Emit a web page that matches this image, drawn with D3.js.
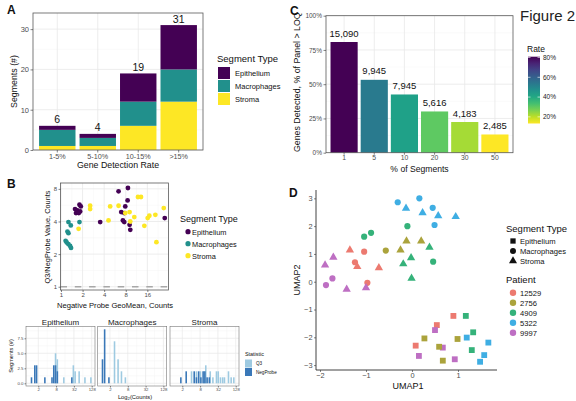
<!DOCTYPE html>
<html><head><meta charset="utf-8">
<script src="https://cdn.jsdelivr.net/npm/d3@7"></script>
<style>body{margin:0;background:#fff}svg{display:block;font-family:"Liberation Sans",Arial,sans-serif}</style>
</head><body><svg id="c" width="576" height="401"></svg>
<script>
// ---------------- DATA ----------------
// Panel A
const aCategories = ["1-5%", "5-10%", "10-15%", ">15%"];
const aStroma = [1, 1, 6, 12];
const aMacrophages = [4, 2, 6, 8];
const aEpithelium = [1, 1, 7, 11];
const aTicks = [0, 10, 20, 30];
const segTypes = ["Epithelium", "Macrophages", "Stroma"];
const segColors = ["#440154", "#21908C", "#FDE725"];

// Panel C
const cCategories = ["1", "5", "10", "20", "30", "50"];
const cRate = [80.8, 53.2, 42.5, 30.1, 22.4, 13.3];
const cGenes = [15090, 9945, 7945, 5616, 4183, 2485];
const cTicks = [0, 25, 50, 75, 100];
const cLegendTicks = [20, 40, 60, 80];

// Panel B scatter: [negative probe geomean, Q3/NegProbe]
const bEpithelium = [[1.81,5.71],[1.89,5.51],[1.57,5.21],[1.69,5.06],[1.85,4.95],[1.62,4.78],[1.77,4.78],
  [3.52,3.95],[6.35,7.59],[8.58,8.15],[8.49,6.26],[7.87,5.51],[6.92,4.89],[7.62,4.78],[7.30,4.09],
  [7.62,3.95],[9.05,3.73],[9.25,3.35],[27.97,4.30]];
const bMacrophages = [[1.27,3.95],[1.37,3.68],[1.23,3.23],[1.27,3.12],[1.16,2.65],[1.20,2.56],
  [1.27,2.47],[1.34,2.38],[1.38,2.28],[1.81,3.95]];
const bStroma = [[2.55,5.59],[2.55,5.21],[1.76,3.42],[4.85,5.51],[4.60,4.09],[6.35,5.59],[7.87,4.78],
  [9.05,4.89],[11.84,6.73],[13.05,6.73],[10.52,4.39],[14.53,3.65],[16.17,4.30],[17.06,4.52],
  [20.7,4.61],[27.1,5.32],[21.4,2.58],[9.25,4.0]];
const bXTicks = [1, 2, 4, 8, 16];
const bYTicks = [1, 2, 4, 8];

// Panel B histograms: [log2 bin centre, segments]
const hEpiNeg = [[0.25,1],[0.62,3],[0.82,3],[1.75,1],[2.55,1],[2.75,3],[2.95,3],[3.15,2],[4.78,1]];
const hEpiQ3 = [[2.95,5],[3.15,4],[3.88,1],[4.95,3],[5.15,2],[5.6,2],[6.25,1],[6.92,1]];
const hMacNeg = [[0.17,4],[0.41,9],[0.89,1]];
const hMacQ3 = [[1.52,7],[1.92,4],[2.3,2],[2.74,1]];
const hStrNeg = [[0.85,1],[1.45,2],[2.35,2],[2.6,1],[2.85,2],[3.1,1],[3.35,2],[3.55,2],[3.8,1],[4.05,1]];
const hStrQ3 = [[2.05,2],[2.6,2],[3.05,2],[3.45,2],[3.65,3],[4.15,2],[4.45,1],[4.85,2],[5.05,2],[5.3,1],
  [5.55,1],[5.75,1],[6.2,2],[6.5,1],[6.8,1]];
const hXTicks = [1, 3, 5, 7];          // log2 -> 2, 8, 32, 128
const hYTicks = [0, 2.5, 5, 7.5];
const statColors = {Q3: "#9ECAE1", NegProbe: "#3A78B8"};

// Panel D UMAP
const dPatients = ["12529", "2756", "4909", "5322", "9997"];
const dPatientColors = ["#EC7A70", "#ABA33C", "#35B27A", "#3FAEE3", "#BE6FC3"];
const dPoints = [
  ["12529","Macrophages",-1.04,1.08],["12529","Macrophages",-1.24,0.70],["12529","Stroma",-1.35,1.14],
  ["12529","Stroma",-1.19,0.54],["12529","Macrophages",-0.97,-0.04],["12529","Stroma",-0.72,0.50],
  ["12529","Epithelium",0.90,-1.23],["12529","Epithelium",0.54,-1.56],["12529","Epithelium",0.08,-2.30],
  ["9997","Stroma",-1.89,0.60],["9997","Stroma",-1.71,0.88],["9997","Macrophages",-1.73,0.12],
  ["9997","Macrophages",-1.87,-0.12],["9997","Stroma",-1.42,-0.27],["9997","Stroma",-1.0,-0.22],
  ["9997","Epithelium",0.50,-1.74],["9997","Epithelium",0.15,-2.67],["9997","Epithelium",0.67,-2.37],
  ["9997","Epithelium",0.93,-2.79],
  ["4909","Macrophages",-1.04,1.62],["4909","Macrophages",-0.89,1.76],["4909","Macrophages",-0.10,2.0],
  ["4909","Stroma",-0.19,0.64],["4909","Stroma",-0.02,0.86],["4909","Stroma",-0.01,0.12],
  ["4909","Stroma",0.38,1.24],["4909","Macrophages",0.46,0.72],["4909","Epithelium",1.17,-1.23],
  ["4909","Epithelium",1.33,-1.82],["4909","Epithelium",1.30,-2.46],
  ["2756","Macrophages",-0.57,1.12],["2756","Stroma",-0.25,1.14],["2756","Stroma",-0.12,1.46],
  ["2756","Stroma",0.20,1.46],["2756","Epithelium",0.27,-2.04],["2756","Epithelium",0.59,-2.34],
  ["2756","Epithelium",0.99,-2.06],["2756","Epithelium",0.67,-2.84],
  ["5322","Macrophages",-0.31,2.86],["5322","Stroma",-0.13,2.64],["5322","Macrophages",0.16,3.0],
  ["5322","Stroma",0.23,2.48],["5322","Macrophages",0.45,2.66],["5322","Stroma",0.57,2.37],
  ["5322","Macrophages",0.49,2.04],["5322","Stroma",0.95,2.34],["5322","Epithelium",1.19,-2.01],
  ["5322","Epithelium",1.66,-2.19],["5322","Epithelium",1.57,-2.64],["5322","Epithelium",1.48,-2.88]
];
const dXTicks = [-2, -1, 0, 1];
const dYTicks = [-3, -2, -1, 0, 1, 2, 3];

// ---------------- HELPERS ----------------
const FONT = '"Liberation Sans", Arial, sans-serif';
const svg = d3.select("#c");
const GM = "#e8e8e8", Gm = "#f4f4f4", BORDER = "#5a5a5a", TT = "#4d4d4d";
function line(g, x1, y1, x2, y2, col, w, dash) {
  const l = g.append("line").attr("x1", x1).attr("y1", y1).attr("x2", x2).attr("y2", y2)
    .attr("stroke", col).attr("stroke-width", w);
  if (dash) l.attr("stroke-dasharray", dash);
  return l;
}
function text(g, x, y, s, size, opt = {}) {
  const t = g.append("text").attr("x", x).attr("y", y).text(s).attr("font-size", size)
    .attr("fill", opt.fill || "#111").attr("text-anchor", opt.anchor || "start");
  if (opt.weight) t.attr("font-weight", opt.weight);
  if (opt.rotate) t.attr("transform", `rotate(-90,${x},${y})`);
  return t;
}
function styleAxis(g, size, keepDomain) {
  g.attr("font-family", FONT);
  if (!keepDomain) g.select(".domain").remove();
  g.selectAll(".tick line").attr("stroke", "#333").attr("stroke-width", 0.6);
  g.selectAll(".tick text").attr("font-size", size).attr("fill", TT);
}

// ---------------- PANEL A ----------------
{
  const g = svg.append("g");
  const P = {l: 33, r: 203, t: 13, b: 150};
  const x = d3.scaleBand().domain(aCategories).range([P.l, P.r]).paddingInner(0.1).paddingOuter(0.15);
  const y = d3.scaleLinear().domain([0, 34]).range([P.b, P.t]);
  [5, 15, 25].forEach(v => line(g, P.l, y(v), P.r, y(v), Gm, 0.5));
  aTicks.forEach(v => line(g, P.l, y(v), P.r, y(v), GM, 0.8));
  aCategories.forEach(c => line(g, x(c) + x.bandwidth() / 2, P.t, x(c) + x.bandwidth() / 2, P.b, GM, 0.8));
  const rows = aCategories.map((c, i) => ({cat: c, Stroma: aStroma[i], Macrophages: aMacrophages[i], Epithelium: aEpithelium[i]}));
  const series = d3.stack().keys(["Stroma", "Macrophages", "Epithelium"])(rows);
  series.forEach(s => {
    g.append("g").attr("fill", segColors[segTypes.indexOf(s.key)]).selectAll("rect").data(s).join("rect")
      .attr("x", d => x(d.data.cat)).attr("width", x.bandwidth())
      .attr("y", d => y(d[1])).attr("height", d => y(d[0]) - y(d[1]));
  });
  rows.forEach(r => {
    const tot = r.Stroma + r.Macrophages + r.Epithelium;
    text(g, x(r.cat) + x.bandwidth() / 2, y(tot) - 2.5, tot, 10.5, {anchor: "middle"});
  });
  g.append("rect").attr("x", P.l).attr("y", P.t).attr("width", P.r - P.l).attr("height", P.b - P.t)
    .attr("fill", "none").attr("stroke", BORDER).attr("stroke-width", 0.8);
  const ya = g.append("g").attr("transform", `translate(${P.l},0)`)
    .call(d3.axisLeft(y).tickValues(aTicks).tickSize(2.5).tickPadding(1.5));
  styleAxis(ya, 7.5);
  const xa = g.append("g").attr("transform", `translate(0,${P.b})`)
    .call(d3.axisBottom(x).tickSize(2.5).tickPadding(1.5));
  styleAxis(xa, 7.2);
  text(g, (P.l + P.r) / 2, 168, "Gene Detection Rate", 8.8, {anchor: "middle"});
  text(g, 17, (P.t + P.b) / 2, "Segments (#)", 8.8, {anchor: "middle", rotate: true});
  // legend
  text(g, 217, 62, "Segment Type", 9.5);
  segTypes.forEach((s, i) => {
    g.append("rect").attr("x", 218).attr("y", 67 + i * 13).attr("width", 12).attr("height", 12).attr("fill", segColors[i]);
    text(g, 235, 76 + i * 13, s, 7.5);
  });
  text(g, 7, 14, "A", 12, {weight: "bold"});
}

// ---------------- PANEL C ----------------
{
  const g = svg.append("g");
  const P = {l: 326, r: 513, t: 15.7, b: 152.7};
  const x = d3.scaleBand().domain(cCategories).range([P.l, P.r]).paddingInner(0.1).paddingOuter(0.15);
  const y = d3.scaleLinear().domain([0, 100]).range([P.b, P.t]);
  const col = d3.scaleSequential(d3.interpolateViridis).domain([d3.max(cRate), d3.min(cRate)]);
  [12.5, 37.5, 62.5, 87.5].forEach(v => line(g, P.l, y(v), P.r, y(v), Gm, 0.5));
  cTicks.forEach(v => line(g, P.l, y(v), P.r, y(v), GM, 0.8));
  cCategories.forEach(c => line(g, x(c) + x.bandwidth() / 2, P.t, x(c) + x.bandwidth() / 2, P.b, GM, 0.8));
  g.selectAll("rect.bar").data(cCategories).join("rect").attr("class", "bar")
    .attr("x", d => x(d)).attr("width", x.bandwidth())
    .attr("y", (d, i) => y(cRate[i])).attr("height", (d, i) => y(0) - y(cRate[i]))
    .attr("fill", (d, i) => col(cRate[i]));
  cCategories.forEach((c, i) => text(g, x(c) + x.bandwidth() / 2, y(cRate[i]) - 5.5, d3.format(",")(cGenes[i]), 9.5, {anchor: "middle"}));
  g.append("rect").attr("x", P.l).attr("y", P.t).attr("width", P.r - P.l).attr("height", P.b - P.t)
    .attr("fill", "none").attr("stroke", BORDER).attr("stroke-width", 0.8);
  const ya = g.append("g").attr("transform", `translate(${P.l},0)`)
    .call(d3.axisLeft(y).tickValues(cTicks).tickFormat(d => d + "%").tickSize(2.5).tickPadding(1.5));
  styleAxis(ya, 6.5);
  const xa = g.append("g").attr("transform", `translate(0,${P.b})`)
    .call(d3.axisBottom(x).tickSize(2).tickPadding(0.8));
  styleAxis(xa, 6.8);
  text(g, (P.l + P.r) / 2, 171.5, "% of Segments", 8.6, {anchor: "middle"});
  text(g, 300, (P.t + P.b) / 2 - 2, "Genes Detected, % of Panel > LOQ", 8.8, {anchor: "middle", rotate: true});
  // colour bar legend
  const ly = d3.scaleLinear().domain([d3.min(cRate), d3.max(cRate)]).range([123.5, 56.7]);
  const grad = svg.append("defs").append("linearGradient").attr("id", "rateGrad")
    .attr("x1", 0).attr("y1", 1).attr("x2", 0).attr("y2", 0);
  d3.range(0, 1.001, 0.1).forEach(t => grad.append("stop").attr("offset", t)
    .attr("stop-color", col(d3.min(cRate) + t * (d3.max(cRate) - d3.min(cRate)))));
  text(g, 527, 52, "Rate", 8.5);
  g.append("rect").attr("x", 528).attr("y", ly(d3.max(cRate))).attr("width", 12)
    .attr("height", ly(d3.min(cRate)) - ly(d3.max(cRate))).attr("fill", "url(#rateGrad)");
  cLegendTicks.forEach(v => {
    line(g, 528, ly(v), 530.5, ly(v), "#fff", 0.6);
    line(g, 537.5, ly(v), 540, ly(v), "#fff", 0.6);
    text(g, 543, ly(v) + 2.3, v + "%", 6.5, {fill: "#222"});
  });
  text(g, 290, 15, "C", 12, {weight: "bold"});
  text(g, 520, 21, "Figure 2", 15, {fill: "#222"});
}

// ---------------- PANEL B scatter ----------------
{
  const g = svg.append("g");
  const P = {l: 60.5, r: 168.5, t: 183, b: 290};
  const x = d3.scaleLog().base(2).domain([Math.pow(2, -0.023), Math.pow(2, 4.98)]).range([P.l, P.r]);
  const y = d3.scaleLog().base(2).domain([Math.pow(2, -0.1), Math.pow(2, 3.18)]).range([P.b, P.t]);
  bXTicks.forEach(v => { const m = v * Math.SQRT2; if (x(m) < P.r) line(g, x(m), P.t, x(m), P.b, Gm, 0.5); });
  bYTicks.forEach(v => { const m = v * Math.SQRT2; if (y(m) > P.t) line(g, P.l, y(m), P.r, y(m), Gm, 0.5); });
  bXTicks.forEach(v => line(g, x(v), P.t, x(v), P.b, GM, 0.8));
  bYTicks.forEach(v => line(g, P.l, y(v), P.r, y(v), GM, 0.8));
  line(g, P.l, y(1), P.r, y(1), "#a8a8a8", 1.4, "6.5,7.8");
  [[bEpithelium, 0], [bMacrophages, 1], [bStroma, 2]].forEach(([arr, k]) => {
    g.append("g").selectAll("circle").data(arr).join("circle")
      .attr("cx", d => x(d[0])).attr("cy", d => y(d[1])).attr("r", 2.4).attr("fill", segColors[k]);
  });
  g.append("rect").attr("x", P.l).attr("y", P.t).attr("width", P.r - P.l).attr("height", P.b - P.t)
    .attr("fill", "none").attr("stroke", BORDER).attr("stroke-width", 0.8);
  const ya = g.append("g").attr("transform", `translate(${P.l},0)`)
    .call(d3.axisLeft(y).tickValues(bYTicks).tickFormat(d3.format("d")).tickSize(2).tickPadding(1.5));
  styleAxis(ya, 6);
  const xa = g.append("g").attr("transform", `translate(0,${P.b})`)
    .call(d3.axisBottom(x).tickValues(bXTicks).tickFormat(d3.format("d")).tickSize(2).tickPadding(1));
  styleAxis(xa, 6);
  text(g, 115, 308, "Negative Probe GeoMean, Counts", 7.6, {anchor: "middle"});
  text(g, 50, 237, "Q3/NegProbe Value, Counts", 7.4, {anchor: "middle", rotate: true});
  text(g, 180, 221.5, "Segment Type", 9);
  segTypes.forEach((s, i) => {
    g.append("circle").attr("cx", 188).attr("cy", 231.7 + i * 12).attr("r", 2.6).attr("fill", segColors[i]);
    text(g, 192, 234.5 + i * 12, s, 7.4);
  });
  text(g, 7, 188, "B", 12, {weight: "bold"});
}

// ---------------- PANEL B histograms ----------------
{
  const g = svg.append("g");
  const T = 326.6, Bt = 386, W = 69;
  const y = d3.scaleLinear().domain([-0.45, 9.45]).range([Bt, T]);
  const facets = [["Epithelium", 26, hEpiQ3, hEpiNeg], ["Macrophages", 97.7, hMacQ3, hMacNeg], ["Stroma", 170, hStrQ3, hStrNeg]];
  facets.forEach(([name, x0, q3, neg], fi) => {
    const x = d3.scaleLinear().domain([-0.38, 7.37]).range([x0, x0 + W]);
    [2, 4, 6].forEach(v => line(g, x(v), T, x(v), Bt, Gm, 0.5));
    [1.25, 3.75, 6.25, 8.75].forEach(v => line(g, x0, y(v), x0 + W, y(v), Gm, 0.5));
    hXTicks.forEach(v => line(g, x(v), T, x(v), Bt, GM, 0.7));
    hYTicks.forEach(v => line(g, x0, y(v), x0 + W, y(v), GM, 0.7));
    [[q3, statColors.Q3], [neg, statColors.NegProbe]].forEach(([arr, c]) => {
      g.append("g").selectAll("rect").data(arr).join("rect")
        .attr("x", d => x(d[0] - 0.1)).attr("width", d => x(d[0] + 0.1) - x(d[0] - 0.1) - 0.2)
        .attr("y", d => y(d[1])).attr("height", d => y(0) - y(d[1])).attr("fill", c);
    });
    g.append("rect").attr("x", x0).attr("y", T).attr("width", W).attr("height", Bt - T)
      .attr("fill", "none").attr("stroke", "#777").attr("stroke-width", 0.6);
    const xa = g.append("g").attr("transform", `translate(0,${Bt})`)
      .call(d3.axisBottom(x).tickValues(hXTicks).tickFormat(d => Math.pow(2, d)).tickSize(1.5).tickPadding(0.5));
    styleAxis(xa, 4.3);
    if (fi === 0) {
      const ya = g.append("g").attr("transform", `translate(${x0},0)`)
        .call(d3.axisLeft(y).tickValues(hYTicks).tickFormat(d3.format(".1f")).tickSize(1.5).tickPadding(1));
      styleAxis(ya, 4.4);
    }
    text(g, x0 + W / 2, 324.5, name, 8, {anchor: "middle", fill: "#222"});
  });
  const lab = text(g, 135, 398.5, "Log", 5.8, {anchor: "middle"});
  lab.append("tspan").attr("font-size", 4.2).attr("dy", 1.4).text("2");
  lab.append("tspan").attr("dy", -1.4).text("(Counts)");
  text(g, 13, 356, "Segments (#)", 5.6, {anchor: "middle", rotate: true});
  text(g, 245, 355.5, "Statistic", 5.4);
  [["Q3", statColors.Q3], ["NegProbe", statColors.NegProbe]].forEach(([s, c], i) => {
    g.append("rect").attr("x", 245).attr("y", 359.5 + i * 8.5).attr("width", 7).attr("height", 8).attr("fill", c);
    text(g, 256, 365.3 + i * 8.5, s, 4.6);
  });
}

// ---------------- PANEL D ----------------
{
  const g = svg.append("g");
  const P = {l: 316, r: 497, t: 190, b: 370};
  const x = d3.scaleLinear().domain([-2.087, 1.848]).range([P.l, P.r]);
  const y = d3.scaleLinear().domain([-3.176, 3.30]).range([P.b, P.t]);
  const pc = d3.scaleOrdinal().domain(dPatients).range(dPatientColors);
  const shape = {Epithelium: d3.symbolSquare, Macrophages: d3.symbolCircle, Stroma: d3.symbolTriangle};
  const sz = {Epithelium: 34, Macrophages: 30, Stroma: 30};
  g.append("g").selectAll("path").data(dPoints).join("path")
    .attr("transform", d => `translate(${x(d[2])},${y(d[3])})`)
    .attr("d", d => d3.symbol(shape[d[1]], sz[d[1]])())
    .attr("fill", d => pc(d[0]));
  const xa = g.append("g").attr("transform", `translate(0,${P.b})`)
    .call(d3.axisBottom(x).tickValues(dXTicks).tickSize(2).tickPadding(0.8).tickFormat(d3.format("d")));
  styleAxis(xa, 7.4, true);
  const ya = g.append("g").attr("transform", `translate(${P.l},0)`)
    .call(d3.axisLeft(y).tickValues(dYTicks).tickSize(2).tickPadding(1.5).tickFormat(d3.format("d")));
  styleAxis(ya, 7.4, true);
  xa.select(".domain").attr("stroke", "#111").attr("stroke-width", 0.8).attr("d", `M${P.l},0H${P.r}`);
  ya.select(".domain").attr("stroke", "#111").attr("stroke-width", 0.8).attr("d", `M0,${P.b}V${P.t}`);
  text(g, 408, 388.5, "UMAP1", 9, {anchor: "middle"});
  text(g, 300, 280, "UMAP2", 9, {anchor: "middle", rotate: true});
  text(g, 506, 231.5, "Segment Type", 9.5);
  segTypes.forEach((s, i) => {
    g.append("path").attr("transform", `translate(513,${241 + i * 10})`)
      .attr("d", d3.symbol([d3.symbolSquare, d3.symbolCircle, d3.symbolTriangle][i], 28)()).attr("fill", "#111");
    text(g, 520, 243.8 + i * 10, s, 7.6);
  });
  text(g, 506, 282.5, "Patient", 9.5);
  dPatients.forEach((p, i) => {
    g.append("circle").attr("cx", 513).attr("cy", 292.7 + i * 10).attr("r", 3.2).attr("fill", dPatientColors[i]);
    text(g, 520, 295.5 + i * 10, p, 7.6);
  });
  text(g, 289, 197, "D", 12, {weight: "bold"});
}
</script></body></html>
